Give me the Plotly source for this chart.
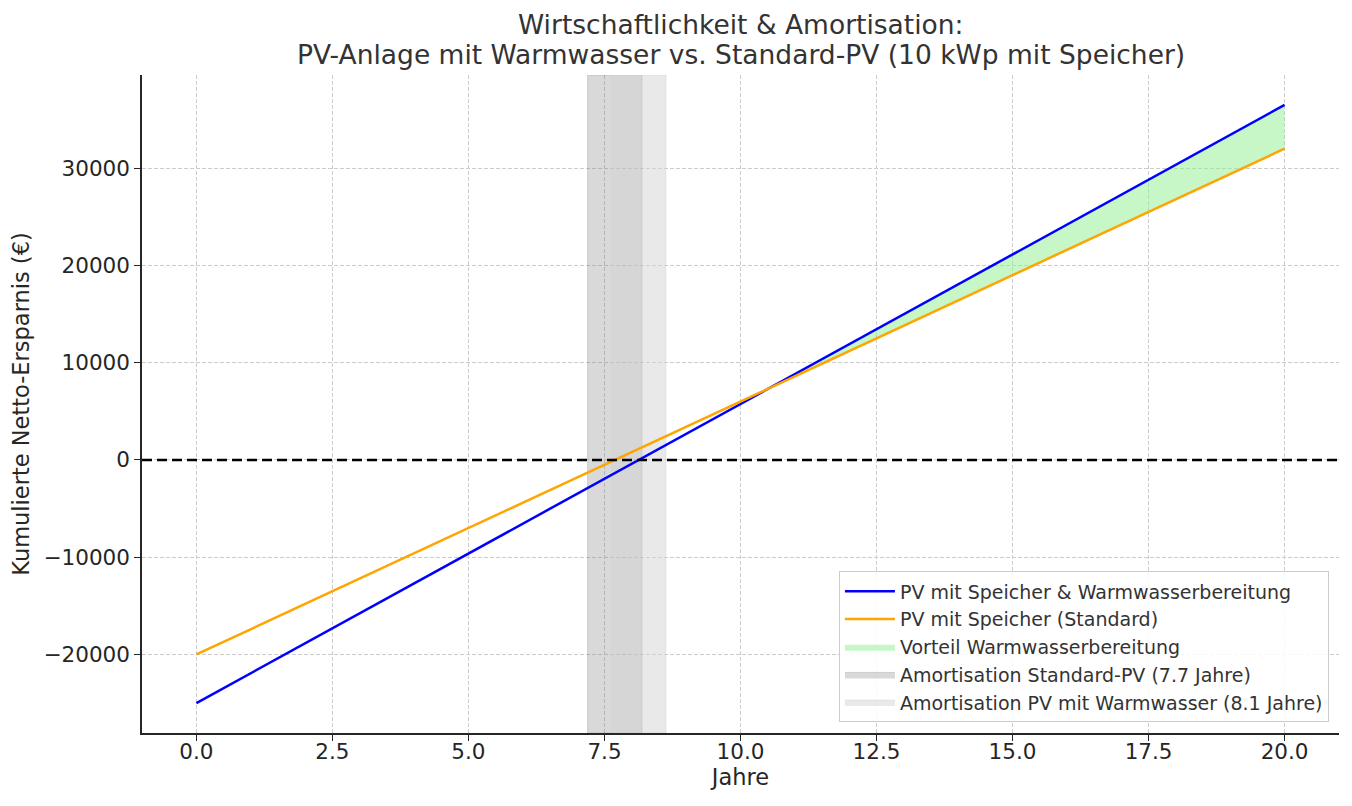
import plotly.graph_objects as go

# ---- data ----
years = list(range(0, 21))
pv_warmwasser = [-25000, -21925, -18850, -15775, -12700, -9625, -6550, -3475, -400, 2675,
                 5750, 8825, 11900, 14975, 18050, 21125, 24200, 27275, 30350, 33425, 36500]
pv_standard = [-20000, -17400, -14800, -12200, -9600, -7000, -4400, -1800, 800, 3400,
               6000, 8600, 11200, 13800, 16400, 19000, 21600, 24200, 26800, 29400, 32000]
amort_standard = 7.69
amort_warm = 8.13
span_half = 0.5
x_ticks = [0.0, 2.5, 5.0, 7.5, 10.0, 12.5, 15.0, 17.5, 20.0]
x_ticklabels = ["0.0", "2.5", "5.0", "7.5", "10.0", "12.5", "15.0", "17.5", "20.0"]
y_ticks = [-20000, -10000, 0, 10000, 20000, 30000]
y_ticklabels = ["\u221220000", "\u221210000", "0", "10000", "20000", "30000"]
title_lines = ["Wirtschaftlichkeit & Amortisation:",
               "PV-Anlage mit Warmwasser vs. Standard-PV (10 kWp mit Speicher)"]

# axis ranges (matplotlib-like 5% margins)
xmin, xmax = min(years), max(years)
xpad = (xmax - xmin) * 0.05
ymin = min(pv_warmwasser + pv_standard)
ymax = max(pv_warmwasser + pv_standard)
ypad = (ymax - ymin) * 0.05
yr = [ymin - ypad, ymax + ypad]
xr = [xmin - xpad, xmax + xpad]

fig = go.Figure()

# amortisation spans (behind lines)
def span(center, color, name, rank):
    x0, x1 = center - span_half, center + span_half
    fig.add_trace(go.Scatter(
        x=[x0, x1, x1, x0, x0], y=[yr[0], yr[0], yr[1], yr[1], yr[0]],
        mode="lines", fill="toself", fillcolor=color,
        line=dict(width=1, color=color), name=name, legendrank=rank,
        legendgroup="g%d" % rank, hoverinfo="skip"))

span(amort_standard, "rgba(128,128,128,0.30)", "Amortisation Standard-PV (7.7 Jahre)", 4)
span(amort_warm, "rgba(211,211,211,0.50)", "Amortisation PV mit Warmwasser (8.1 Jahre)", 5)

# advantage fill where warmwasser > standard
adv = [(x, a, b) for x, a, b in zip(years, pv_warmwasser, pv_standard) if a > b]
adv_x = [p[0] for p in adv]
adv_high = [p[1] for p in adv]
adv_low = [p[2] for p in adv]
fig.add_trace(go.Scatter(x=adv_x, y=adv_low, mode="lines", line=dict(width=0),
                         showlegend=False, hoverinfo="skip", legendgroup="g3"))
fig.add_trace(go.Scatter(x=adv_x, y=adv_high, mode="lines", line=dict(width=0),
                         fill="tonexty", fillcolor="rgba(144,238,144,0.5)",
                         name="Vorteil Warmwasserbereitung", legendrank=3, legendgroup="g3"))

fig.add_trace(go.Scatter(x=years, y=pv_warmwasser, mode="lines",
                         line=dict(color="#0000ff", width=2.5),
                         name="PV mit Speicher & Warmwasserbereitung", legendrank=1,
                         legendgroup="g1"))
fig.add_trace(go.Scatter(x=years, y=pv_standard, mode="lines",
                         line=dict(color="#ffa500", width=2.5),
                         name="PV mit Speicher (Standard)", legendrank=2,
                         legendgroup="g2"))

# zero line
fig.add_shape(type="line", xref="paper", x0=0, x1=1, yref="y", y0=0, y1=0,
              line=dict(color="black", width=2.5, dash="10px,5px"))

# title as two centred lines
fig.add_annotation(text=title_lines[0], xref="paper", yref="paper", x=0.5, y=1.076,
                   xanchor="center", yanchor="middle", showarrow=False,
                   font=dict(size=26.5, color="#333333"))
fig.add_annotation(text=title_lines[1], xref="paper", yref="paper", x=0.5, y=1.0304,
                   xanchor="center", yanchor="middle", showarrow=False,
                   font=dict(size=26.5, color="#333333"))

font = "DejaVu Sans"
fig.update_layout(
    width=1336, height=790,
    paper_bgcolor="white", plot_bgcolor="white",
    margin=dict(l=134, r=5, t=67, b=65, autoexpand=False),
    font=dict(family=font, color="#333333", size=19),
    legend=dict(x=0.9916, xanchor="right", y=0.016, yanchor="bottom",
                bgcolor="rgba(255,255,255,0.85)", bordercolor="#cccccc", borderwidth=1,
                font=dict(size=19, color="#333333"), traceorder="grouped",
                tracegroupgap=0, itemwidth=50),
    showlegend=True,
)
fig.update_xaxes(range=xr, tickvals=x_ticks, ticktext=x_ticklabels,
                 showline=True, linecolor="#262626", linewidth=1.5, mirror=False,
                 ticks="outside", ticklen=6, tickcolor="#262626",
                 showgrid=True, gridcolor="#cccccc", griddash="4px,2px", gridwidth=1,
                 zeroline=False, tickfont=dict(size=21.5, color="#262626"),
                 ticklabelstandoff=-8,
                 title=dict(text="Jahre", font=dict(size=22.5, color="#262626"), standoff=6))
fig.update_yaxes(range=yr, tickvals=y_ticks, ticktext=y_ticklabels,
                 showline=True, linecolor="#262626", linewidth=1.5, mirror=False,
                 ticks="outside", ticklen=6, tickcolor="#262626",
                 showgrid=True, gridcolor="#cccccc", griddash="4px,2px", gridwidth=1,
                 zeroline=False, tickfont=dict(size=21.5, color="#262626"),
                 title=dict(text="Kumulierte Netto-Ersparnis (€)", font=dict(size=22.5, color="#262626"), standoff=12))

fig.write_html("out.html")
